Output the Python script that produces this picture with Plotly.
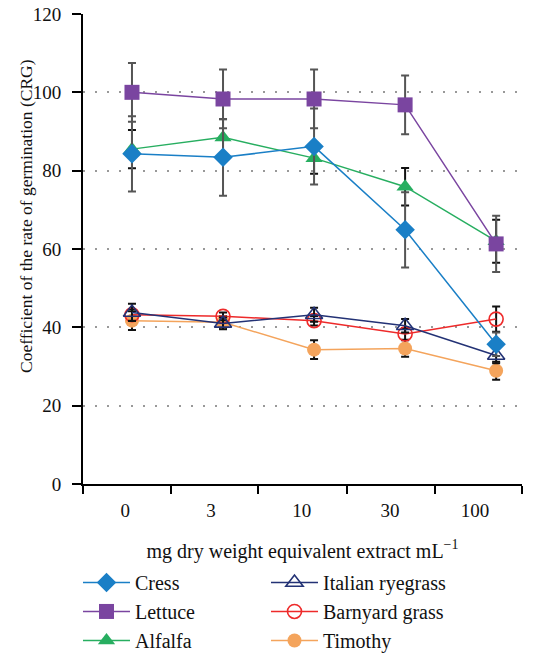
import plotly.graph_objects as go

# ---- data ----
x_labels = ["0", "3", "10", "30", "100"]
x_pos = [0, 1, 2, 3, 4]

cress = [84.3, 83.4, 86.2, 64.9, 35.7]
cress_sd = [9.6, 9.8, 9.7, 9.6, 3.0]
lettuce = [100.0, 98.3, 98.3, 96.8, 61.3]
lettuce_sd = [7.5, 7.5, 7.5, 7.5, 7.2]
alfalfa = [85.5, 88.5, 83.2, 75.9, 62.0]
alfalfa_sd = [4.9, 4.6, 4.0, 4.8, 5.5]
ryegrass = [43.8, 41.0, 43.2, 40.4, 32.8]
ryegrass_sd = [2.2, 1.5, 1.8, 1.7, 2.0]
barnyard = [43.2, 42.8, 41.7, 38.3, 42.1]
barnyard_sd = [1.5, 1.0, 1.2, 1.5, 3.2]
timothy = [41.7, 41.3, 34.3, 34.6, 28.9]
timothy_sd = [2.4, 1.5, 2.4, 2.1, 2.3]

y_title = "Coefficient of the rate of germination (CRG)"
x_title = "mg dry weight equivalent extract mL<sup>\u22121</sup>"

FONT = "Liberation Serif, Times New Roman, serif"

series = [
    # name, y, sd, color, symbol, errcolor, legendrank
    ("Timothy", timothy, timothy_sd, "#f4a45c", "circle", "#111111", 6),
    ("Barnyard grass", barnyard, barnyard_sd, "#ee2a2a", "circle-open", "#111111", 4),
    ("Italian ryegrass", ryegrass, ryegrass_sd, "#233275", "triangle-up-open", "#111111", 2),
    ("Alfalfa", alfalfa, alfalfa_sd, "#27ae60", "triangle-up", "#111111", 5),
    ("Cress", cress, cress_sd, "#1a7fc6", "diamond", "#555555", 1),
    ("Lettuce", lettuce, lettuce_sd, "#7a45a0", "square", "#555555", 3),
]

fig = go.Figure()
for name, y, sd, col, sym, ecol, rank in series:
    fig.add_trace(go.Scatter(
        x=x_pos, y=y, name=name, mode="lines+markers",
        line=dict(color=col, width=1.5),
        marker=dict(symbol=sym, size=14 if "circle" in sym else 15, color=col,
                    line=dict(width=1.6 if "open" in sym else 0, color=col)),
        error_y=dict(type="data", array=sd, visible=True, color=ecol,
                     thickness=2, width=4),
        legendrank=rank,
    ))

fig.update_layout(
    width=542, height=659,
    margin=dict(l=83, r=20, t=14, b=175, autoexpand=False),
    plot_bgcolor="white", paper_bgcolor="white",
    font=dict(family=FONT, size=19, color="#111111"),
    showlegend=True,
    legend=dict(orientation="h", x=-0.0114, xanchor="left", y=-0.168, yanchor="top",
                entrywidth=126, entrywidthmode="pixels", itemwidth=47,
                font=dict(family=FONT, size=20), traceorder="normal"),
    annotations=[dict(text=y_title, textangle=-90, xref="paper", yref="paper",
                      x=-0.130, y=0.570, xanchor="center", yanchor="middle",
                      showarrow=False, font=dict(family=FONT, size=17.5, color="#111111"))],
)

fig.update_xaxes(
    range=[-0.538, 4.284], automargin=False,
    tickmode="array", tickvals=[-0.074, 0.867, 1.866, 2.835, 3.768], ticktext=x_labels,
    ticks="", showgrid=False, zeroline=False, ticklabelstandoff=8,
    showline=True, linecolor="black", linewidth=2,
    tickfont=dict(family=FONT, size=19),
    minor=dict(tickmode="array", tickvals=[-0.538, 0.428, 1.383, 2.36, 3.33, 4.284],
               ticks="outside", ticklen=8, tickwidth=1.5, tickcolor="black", showgrid=False),
    title=dict(text=x_title, font=dict(family=FONT, size=20), standoff=24),
)

fig.update_yaxes(
    range=[0, 120], automargin=False,
    tickmode="array", tickvals=[0, 20, 40, 60, 80, 100, 120],
    ticks="outside", ticklen=9, tickwidth=1.5, tickcolor="black",
    showgrid=False, zeroline=False, ticklabelstandoff=7, ticklabeloverflow="allow",
    showline=True, linecolor="black", linewidth=2,
    tickfont=dict(family=FONT, size=19),
    minor=dict(tickmode="array", tickvals=[20, 40, 60, 80, 100], ticks="",
               showgrid=True, gridcolor="#999999", gridwidth=2, griddash="2px,10px"),
)

# remove the default 8px page margin so the figure fills the 542x659 window
fig.write_html("out.html", config={"displayModeBar": False},
               post_script="document.body.style.margin='0';document.body.style.overflow='hidden';")
